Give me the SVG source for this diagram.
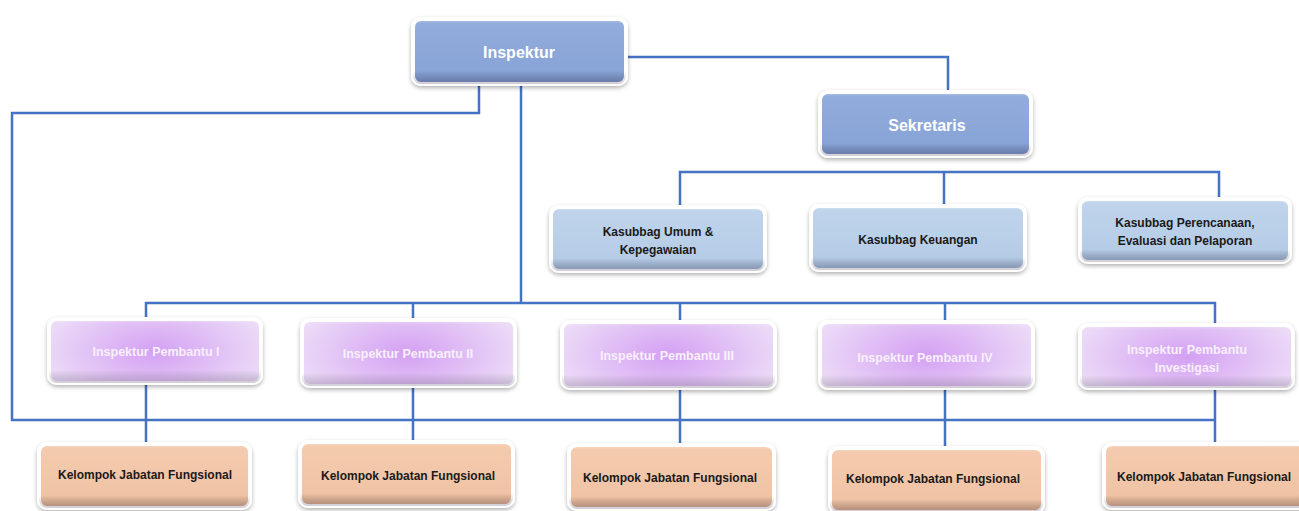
<svg xmlns="http://www.w3.org/2000/svg" width="1299" height="511" viewBox="0 0 1299 511">
<defs>
<filter id="sh" x="-10%" y="-20%" width="120%" height="150%">
<feDropShadow dx="0" dy="2" stdDeviation="2" flood-color="#000" flood-opacity="0.3"/>
</filter>
<linearGradient id="gBlue" x1="0" y1="0" x2="0" y2="1">
<stop offset="0" stop-color="#93addd"/><stop offset="0.8" stop-color="#88a3d6"/><stop offset="1" stop-color="#7891c4"/>
</linearGradient>
<linearGradient id="gLight" x1="0" y1="0" x2="0" y2="1">
<stop offset="0" stop-color="#c0d5ec"/><stop offset="0.8" stop-color="#b6cce6"/><stop offset="1" stop-color="#9cb2cf"/>
</linearGradient>
<linearGradient id="gOrange" x1="0" y1="0" x2="0" y2="1">
<stop offset="0" stop-color="#f5cbaf"/><stop offset="0.8" stop-color="#f0c3a5"/><stop offset="1" stop-color="#d3a88b"/>
</linearGradient>
<radialGradient id="gPurple" cx="0.5" cy="0.5" r="0.55" gradientTransform="translate(0.5 0.5) scale(1 1.6) translate(-0.5 -0.5)">
<stop offset="0" stop-color="#d4a0f3"/><stop offset="1" stop-color="#ecdcf7"/>
</radialGradient>
<linearGradient id="gBevel" x1="0" y1="0" x2="0" y2="1">
<stop offset="0" stop-color="#fff" stop-opacity="0.3"/><stop offset="0.07" stop-color="#fff" stop-opacity="0"/><stop offset="0.8" stop-color="#000" stop-opacity="0"/><stop offset="1" stop-color="#2a1a40" stop-opacity="0.22"/>
</linearGradient>
<style>
.b{stroke:#fff;stroke-width:4;filter:url(#sh)}
.bl{fill:url(#gBlue)}
.lb{fill:url(#gLight)}
.or{fill:url(#gOrange)}
.pu{fill:url(#gPurple)}
.bv{fill:url(#gBevel)}
.c{fill:none;stroke:#4472c4;stroke-width:2.5}
text{font-family:"Liberation Sans",Arial,sans-serif;font-weight:bold;text-anchor:middle}
.tw{fill:#fff;font-size:16px}
.td{fill:#1a1a1a;font-size:12px}
.tp{fill:#f8f0fd;font-size:12.5px}
</style>
</defs>
<g id="connectors">
<path class="c" d="M627 57 H948 V92"/>
<path class="c" d="M479 86 V113 H12 V420 H1215"/>
<path class="c" d="M521 86 V303"/>
<path class="c" d="M146 317 V303 H1215 V323"/>
<path class="c" d="M413 303 V318 M680 303 V320 M945 303 V320"/>
<path class="c" d="M680 205 V172 H1219 V197 M944 172 V204"/>
<path class="c" d="M146 385 V442 M413 388 V440 M680 390 V443 M945 390 V446 M1215 390 V442"/>
</g>
<g id="inspektur"><rect class="b bl" x="413" y="19" width="213" height="65" rx="8"/><rect class="bv" x="413" y="19" width="213" height="65" rx="8"/><text class="tw" x="519" y="58">Inspektur</text></g>
<g id="sekretaris"><rect class="b bl" x="820" y="92" width="211" height="64" rx="8"/><rect class="bv" x="820" y="92" width="211" height="64" rx="8"/><text class="tw" x="927" y="131">Sekretaris</text></g>
<g id="kasubbag-umum"><rect class="b lb" x="551" y="207" width="214" height="64" rx="8"/><rect class="bv" x="551" y="207" width="214" height="64" rx="8"/><text class="td" x="658" y="236">Kasubbag Umum &amp;</text><text class="td" x="658" y="254">Kepegawaian</text></g>
<g id="kasubbag-keuangan"><rect class="b lb" x="811" y="206" width="214" height="64" rx="8"/><rect class="bv" x="811" y="206" width="214" height="64" rx="8"/><text class="td" x="918" y="244">Kasubbag Keuangan</text></g>
<g id="kasubbag-perencanaan"><rect class="b lb" x="1080" y="199" width="210" height="63" rx="8"/><rect class="bv" x="1080" y="199" width="210" height="63" rx="8"/><text class="td" x="1185" y="227">Kasubbag Perencanaan,</text><text class="td" x="1185" y="245">Evaluasi dan Pelaporan</text></g>
<g id="pembantu-1"><rect class="b pu" x="49" y="319" width="212" height="64" rx="8"/><rect class="bv" x="49" y="319" width="212" height="64" rx="8"/><text class="tp" x="156" y="356">Inspektur Pembantu I</text></g>
<g id="pembantu-2"><rect class="b pu" x="302" y="320" width="213" height="66" rx="8"/><rect class="bv" x="302" y="320" width="213" height="66" rx="8"/><text class="tp" x="408" y="358">Inspektur Pembantu II</text></g>
<g id="pembantu-3"><rect class="b pu" x="562" y="322" width="213" height="66" rx="8"/><rect class="bv" x="562" y="322" width="213" height="66" rx="8"/><text class="tp" x="667" y="360">Inspektur Pembantu III</text></g>
<g id="pembantu-4"><rect class="b pu" x="820" y="322" width="213" height="66" rx="8"/><rect class="bv" x="820" y="322" width="213" height="66" rx="8"/><text class="tp" x="925" y="362">Inspektur Pembantu IV</text></g>
<g id="pembantu-investigasi"><rect class="b pu" x="1080" y="325" width="213" height="63" rx="8"/><rect class="bv" x="1080" y="325" width="213" height="63" rx="8"/><text class="tp" x="1187" y="354">Inspektur Pembantu</text><text class="tp" x="1187" y="372">Investigasi</text></g>
<g id="kelompok-1"><rect class="b or" x="39" y="444" width="211" height="64" rx="8"/><rect class="bv" x="39" y="444" width="211" height="64" rx="8"/><text class="td" x="145" y="479">Kelompok Jabatan Fungsional</text></g>
<g id="kelompok-2"><rect class="b or" x="300" y="442" width="213" height="64" rx="8"/><rect class="bv" x="300" y="442" width="213" height="64" rx="8"/><text class="td" x="408" y="480">Kelompok Jabatan Fungsional</text></g>
<g id="kelompok-3"><rect class="b or" x="569" y="445" width="205" height="64" rx="8"/><rect class="bv" x="569" y="445" width="205" height="64" rx="8"/><text class="td" x="670" y="482">Kelompok Jabatan Fungsional</text></g>
<g id="kelompok-4"><rect class="b or" x="830" y="448" width="213" height="64" rx="8"/><rect class="bv" x="830" y="448" width="213" height="64" rx="8"/><text class="td" x="933" y="483">Kelompok Jabatan Fungsional</text></g>
<g id="kelompok-5"><rect class="b or" x="1104" y="444" width="212" height="64" rx="8"/><rect class="bv" x="1104" y="444" width="212" height="64" rx="8"/><text class="td" x="1204" y="481">Kelompok Jabatan Fungsional</text></g>
</svg>
